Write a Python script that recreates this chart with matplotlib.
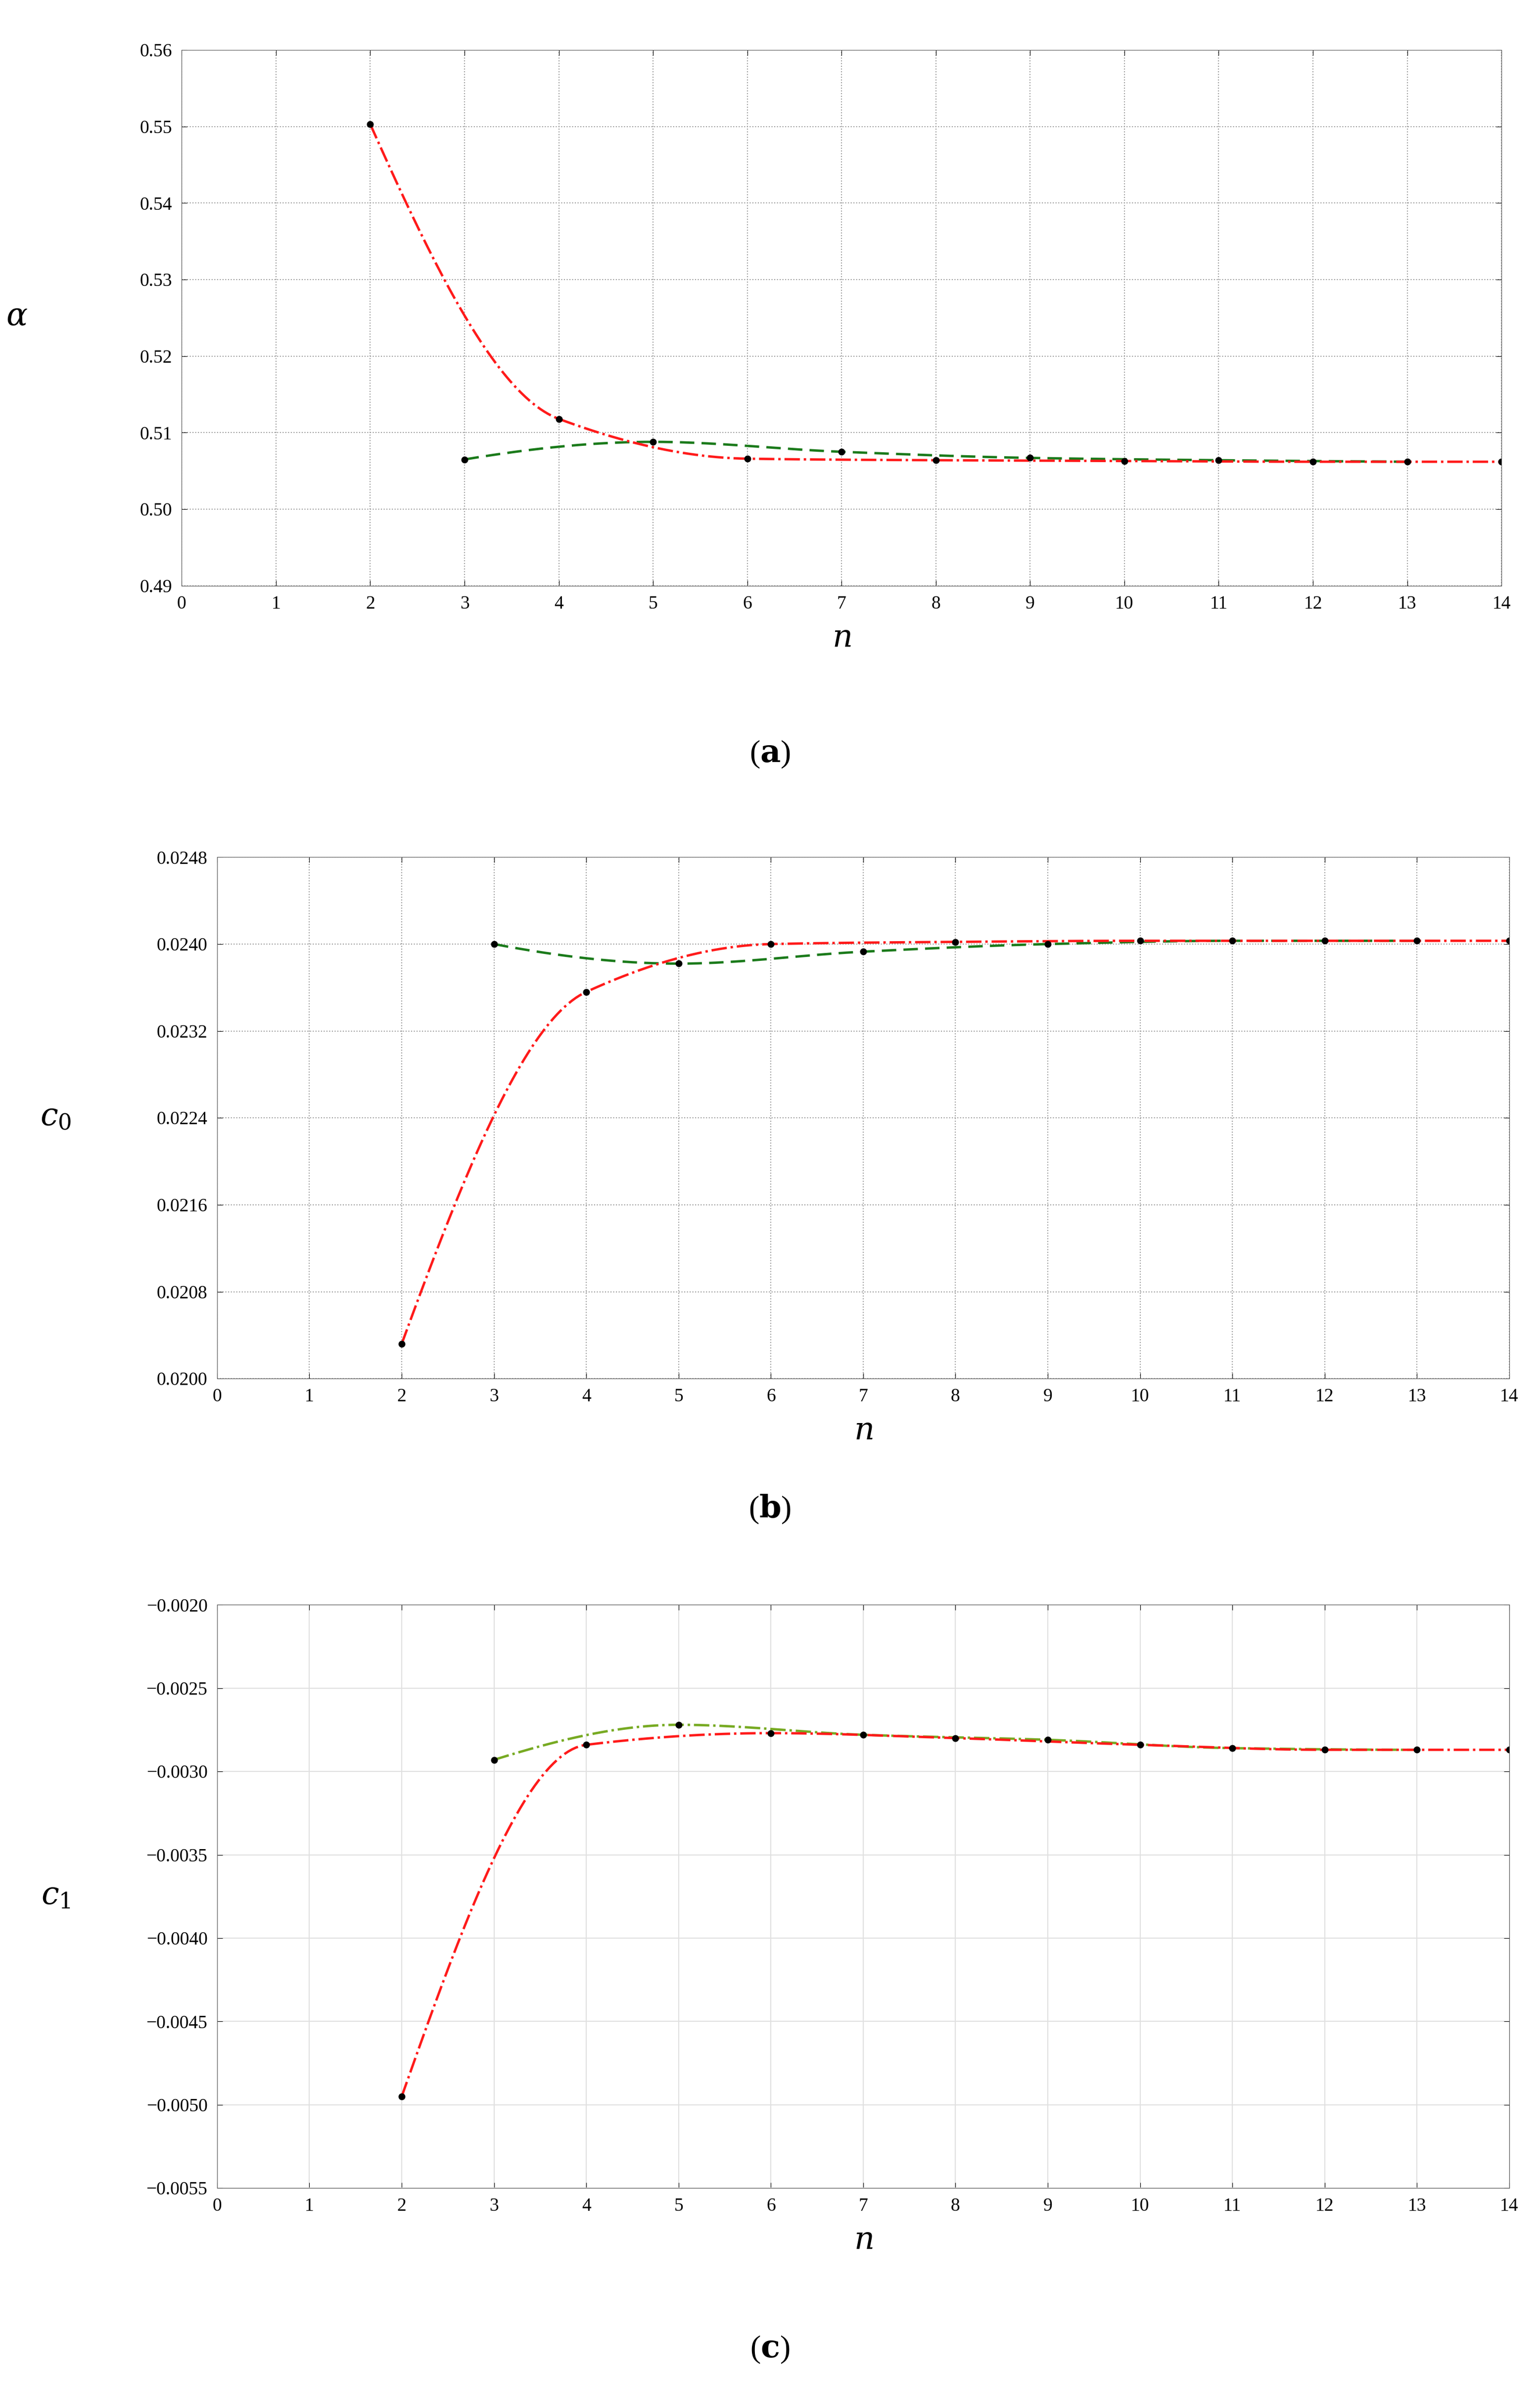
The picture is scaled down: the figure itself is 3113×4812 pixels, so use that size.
import numpy as np
import matplotlib
matplotlib.use("Agg")
import matplotlib.pyplot as plt

plt.rcParams["font.family"] = ["Liberation Serif", "DejaVu Serif"]
plt.rcParams["mathtext.fontset"] = "dejavuserif"

# values
n_even = [2, 4, 6, 8, 10, 12, 14]
n_odd = [3, 5, 7, 9, 11, 13]

alpha_even = [0.5503, 0.5118, 0.5066, 0.5064, 0.5063, 0.5062, 0.5062]
alpha_odd = [0.5065, 0.5088, 0.5075, 0.5067, 0.5064, 0.5062]

c0_even = [0.02032, 0.02356, 0.02400, 0.02402, 0.02403, 0.02403, 0.02403]
c0_odd = [0.02400, 0.02382, 0.02393, 0.02400, 0.02403, 0.02403]

c1_even = [-0.00495, -0.00284, -0.00277, -0.00280, -0.00284, -0.00287, -0.00287]
c1_odd = [-0.00293, -0.00272, -0.00278, -0.00281, -0.00286, -0.00287]


def pchip(x, y, num=300):
    # monotone cubic hermite, so the connecting curves look like the smooth fits
    x = np.asarray(x, float); y = np.asarray(y, float)
    h = np.diff(x); d = np.diff(y) / h
    m = np.zeros_like(y)
    for k in range(1, len(x) - 1):
        if d[k - 1] * d[k] > 0:
            w1 = 2 * h[k] + h[k - 1]; w2 = h[k] + 2 * h[k - 1]
            m[k] = (w1 + w2) / (w1 / d[k - 1] + w2 / d[k])
    # three-point end slopes (scipy's pchip rule)
    def end(h0, h1, d0, d1):
        s = ((2 * h0 + h1) * d0 - h0 * d1) / (h0 + h1)
        if np.sign(s) != np.sign(d0):
            s = 0.0
        elif np.sign(d0) != np.sign(d1) and abs(s) > abs(3 * d0):
            s = 3 * d0
        return s
    m[0] = end(h[0], h[1], d[0], d[1])
    m[-1] = end(h[-1], h[-2], d[-1], d[-2])
    xs = np.linspace(x[0], x[-1], num)
    idx = np.clip(np.searchsorted(x, xs) - 1, 0, len(h) - 1)
    t = (xs - x[idx]) / h[idx]
    h00 = 2*t**3 - 3*t**2 + 1; h10 = t**3 - 2*t**2 + t
    h01 = -2*t**3 + 3*t**2; h11 = t**3 - t**2
    ys = h00*y[idx] + h10*h[idx]*m[idx] + h01*y[idx+1] + h11*h[idx]*m[idx+1]
    return xs, ys


W, H = 3113, 4812
fig = plt.figure(figsize=(W / 100, H / 100), dpi=100, facecolor="white")


def panel(rect, ye, yo, ylim, yticks, fmt, ylab, grid_ls, green, tag, tagy, ylab_x):
    ax = fig.add_axes(rect)
    xs, ys = pchip(n_odd, yo)
    ax.plot(xs, ys, color=green, ls=(0, (6, 3)) if grid_ls == ":" else "-.", lw=3.5)
    xs, ys = pchip(n_even, ye)
    ax.plot(xs, ys, color="#ff1a1a", ls="-.", lw=3.5)
    ax.plot(n_even, ye, "o", color="black", ms=9)
    ax.plot(n_odd, yo, "o", color="black", ms=9)
    ax.set_xlim(0, 14)
    ax.set_ylim(*ylim)
    ax.set_xticks(range(15))
    ax.set_yticks(yticks)
    ax.set_yticklabels([fmt(v).replace("-", "\u2212") for v in yticks])
    if grid_ls == ":":
        ax.grid(True, ls=":", color="#999999", lw=1.5)
    else:
        ax.grid(True, ls="-", color="#e0e0e0", lw=1.5)
    ax.tick_params(labelsize=27, direction="in", top=True, right=True, length=8, pad=14)
    for s in ax.spines.values():
        s.set_color("#555555")
    ax.set_xlabel("$n$", fontsize=46, labelpad=18)
    ax.text(ylab_x, 0.5, ylab, transform=ax.transAxes, fontsize=46, va="center", ha="center")
    fig.text(0.5, tagy, tag, fontsize=46, ha="center", va="center")
    return ax


panel([0.118, 0.754, 0.857, 0.225], alpha_even, alpha_odd, (0.49, 0.56),
      np.arange(0.49, 0.5601, 0.01), lambda v: "%.2f" % v, r"$\alpha$", ":",
      "#1a7a1a", r"($\mathbf{a}$)", 0.683, -0.125)
panel([0.141, 0.421, 0.839, 0.219], c0_even, c0_odd, (0.0200, 0.0248),
      np.arange(0.0200, 0.02481, 0.0008), lambda v: "%.4f" % v, r"$c_0$", ":",
      "#1a7a1a", r"($\mathbf{b}$)", 0.366, -0.125)
panel([0.141, 0.081, 0.839, 0.245], c1_even, c1_odd, (-0.0055, -0.0020),
      np.arange(-0.0055, -0.00199, 0.0005), lambda v: "%.4f" % v, r"$c_1$", "-",
      "#77aa22", r"($\mathbf{c}$)", 0.013, -0.125)

fig.savefig("out.png", dpi=100, facecolor="white")
